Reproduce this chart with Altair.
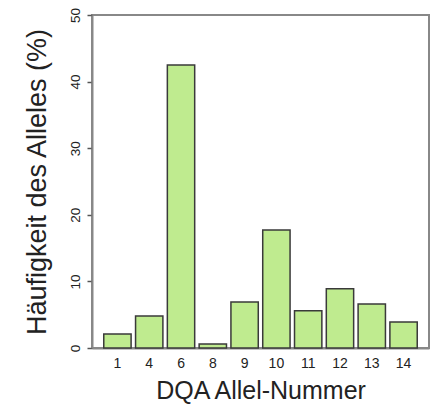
import altair as alt
import pandas as pd

alleles = ["1", "4", "6", "8", "9", "10", "11", "12", "13", "14"]
freq = [2.1, 4.8, 42.5, 0.6, 6.9, 17.7, 5.6, 8.9, 6.6, 3.9]

df = pd.DataFrame({"allele": alleles, "freq": freq})

chart = alt.Chart(df).mark_bar(
    color="#bfeb8f", stroke="#3a3a3a", strokeWidth=1.5
).encode(
    x=alt.X("allele:N", sort=alleles,
            scale=alt.Scale(paddingInner=0.14, paddingOuter=0.37),
            axis=alt.Axis(title="DQA Allel-Nummer", labelAngle=0, ticks=False,
                          labelFontSize=14, titleFontSize=25, labelPadding=8,
                          titlePadding=8, domainColor="#888888", domainWidth=2,
                          labelColor="#222222", titleColor="#222222",
                          titleFontWeight="normal")),
    y=alt.Y("freq:Q", scale=alt.Scale(domain=[0, 50], nice=False),
            axis=alt.Axis(title="Häufigkeit des Alleles (%)", values=[0, 10, 20, 30, 40, 50],
                          labelAngle=270, labelBaseline="alphabetic", labelAlign="center",
                          grid=False, tickSize=5, tickColor="#555555", tickWidth=1.5,
                          labelFontSize=13.5, titleFontSize=27, labelPadding=8,
                          titlePadding=17, domainColor="#888888", domainWidth=2,
                          labelColor="#222222", titleColor="#222222",
                          titleFontWeight="normal")),
).properties(
    width=337, height=333,
    autosize=alt.AutoSizeParams(type="none"),
    padding={"left": 92, "top": 15, "right": 17, "bottom": 58},
).configure_view(
    stroke="#888888", strokeWidth=2
).configure_axis(
    labelFont="Liberation Sans", titleFont="Liberation Sans"
)

chart.save("out.html", embed_options={"renderer": "svg", "actions": False})
